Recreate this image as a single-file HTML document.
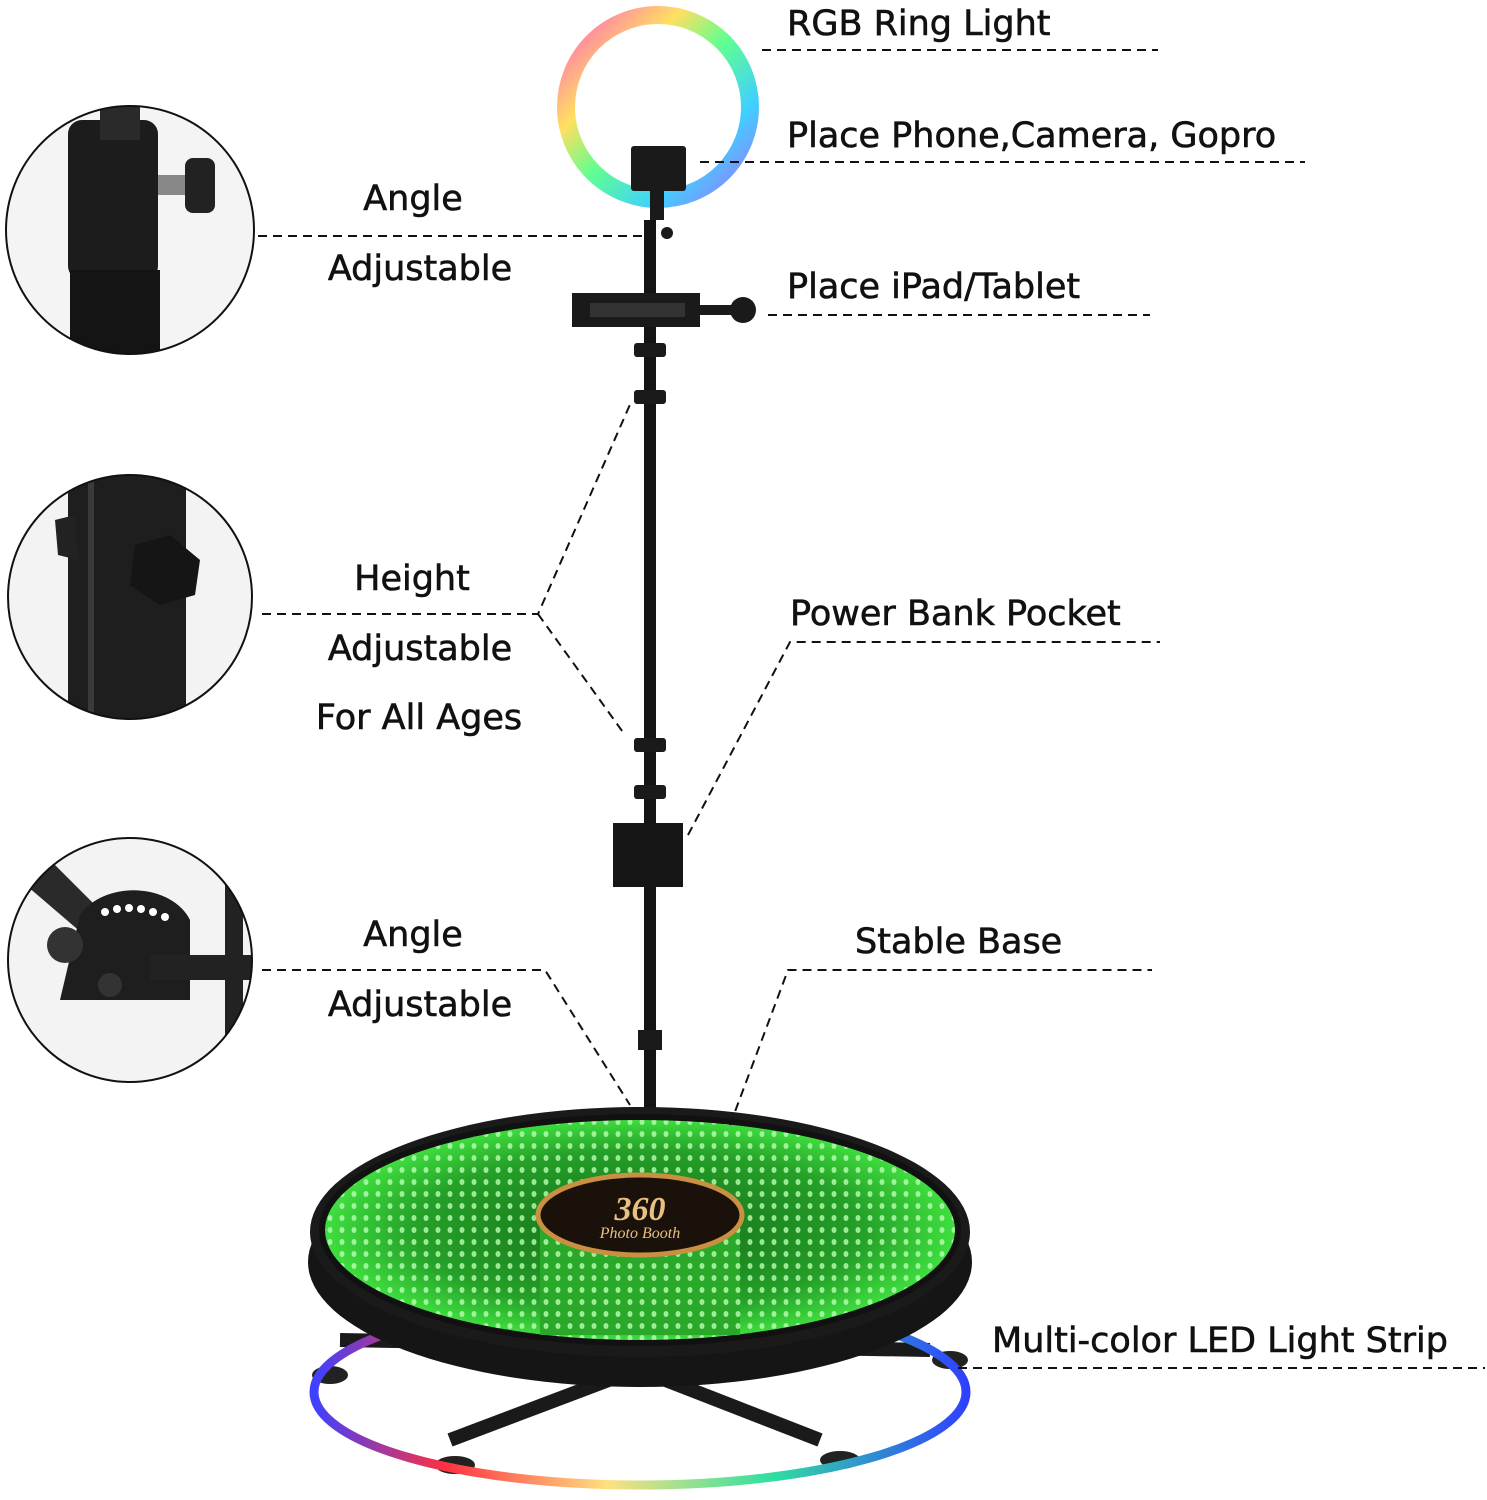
<!DOCTYPE html>
<html><head><meta charset="utf-8"><style>
html,body{margin:0;padding:0;background:#fff}
svg{display:block}
text{font-family:"DejaVu Sans","Liberation Sans",sans-serif;font-size:35px;fill:#111;stroke:#111;stroke-width:0.6}
</style></head><body>
<svg width="1487" height="1500" viewBox="0 0 1487 1500" xmlns="http://www.w3.org/2000/svg">
<defs>
<linearGradient id="rg" x1="0" y1="0" x2="1" y2="1">
<stop offset="0" stop-color="#ff60c0"/><stop offset="0.3" stop-color="#ffe060"/><stop offset="0.5" stop-color="#60ff90"/><stop offset="0.75" stop-color="#40d0ff"/><stop offset="1" stop-color="#a070ff"/>
</linearGradient>
<linearGradient id="led" x1="0" y1="0" x2="1" y2="0">
<stop offset="0" stop-color="#4040ff"/><stop offset="0.2" stop-color="#ff3040"/><stop offset="0.45" stop-color="#ffe080"/><stop offset="0.7" stop-color="#30e0a0"/><stop offset="1" stop-color="#3040ff"/>
</linearGradient>
<radialGradient id="grn" cx="0.5" cy="0.5" r="0.5">
<stop offset="0" stop-color="#146a18"/><stop offset="0.7" stop-color="#25a028"/><stop offset="1" stop-color="#40e040"/>
</radialGradient>
<pattern id="dots" width="12" height="12" patternUnits="userSpaceOnUse">
<ellipse cx="6" cy="6" rx="2.5" ry="3" fill="#b8ffb0" opacity="0.8"/>
</pattern>
<clipPath id="c1"><circle cx="130" cy="230" r="124"/></clipPath>
<clipPath id="c2"><circle cx="130" cy="597" r="122"/></clipPath>
<clipPath id="c3"><circle cx="130" cy="960" r="122"/></clipPath>
</defs>

<g clip-path="url(#c1)">
<rect x="0" y="100" width="260" height="260" fill="#f4f4f4"/>
<rect x="68" y="120" width="90" height="160" rx="14" fill="#1c1c1c"/>
<rect x="100" y="100" width="40" height="40" fill="#2a2a2a"/>
<rect x="158" y="175" width="40" height="20" fill="#888"/>
<rect x="185" y="158" width="30" height="55" rx="8" fill="#222"/>
<rect x="70" y="270" width="90" height="100" fill="#141414"/>
</g>
<circle cx="130" cy="230" r="124" fill="none" stroke="#111" stroke-width="2"/>

<g clip-path="url(#c2)">
<rect x="0" y="470" width="260" height="260" fill="#f3f3f3"/>
<rect x="68" y="470" width="118" height="260" fill="#1e1e1e"/>
<rect x="88" y="470" width="6" height="260" fill="#3a3a3a"/>
<path d="M135 545 L170 535 L200 560 L195 595 L160 605 L130 585 Z" fill="#151515"/>
<path d="M55 520 L75 515 L78 560 L58 555 Z" fill="#222"/>
</g>
<circle cx="130" cy="597" r="122" fill="none" stroke="#111" stroke-width="2"/>

<g clip-path="url(#c3)">
<rect x="0" y="835" width="260" height="260" fill="#f3f3f3"/>
<path d="M20 880 L50 860 L110 920 L90 940 Z" fill="#2a2a2a"/>
<path d="M80 915 A60 45 0 0 1 190 920 L190 1000 L60 1000 Z" fill="#1e1e1e"/>
<g fill="#fff"><circle cx="105" cy="912" r="4"/><circle cx="117" cy="909" r="4"/><circle cx="129" cy="908" r="4"/><circle cx="141" cy="909" r="4"/><circle cx="153" cy="912" r="4"/><circle cx="165" cy="917" r="4"/></g>
<rect x="150" y="955" width="110" height="25" fill="#222"/>
<rect x="225" y="880" width="18" height="220" fill="#222"/>
<circle cx="65" cy="945" r="18" fill="#333"/><circle cx="110" cy="985" r="12" fill="#333"/>
</g>
<circle cx="130" cy="960" r="122" fill="none" stroke="#111" stroke-width="2"/>

<circle cx="658" cy="107" r="92" fill="none" stroke="url(#rg)" stroke-width="18"/>
<rect x="631" y="146" width="55" height="45" rx="3" fill="#1a1a1a"/>
<rect x="650" y="190" width="14" height="30" fill="#1a1a1a"/>
<circle cx="667" cy="233" r="6" fill="#1a1a1a"/>
<rect x="644" y="220" width="12" height="890" fill="#141414"/>
<rect x="572" y="293" width="128" height="34" fill="#1a1a1a"/>
<rect x="590" y="303" width="95" height="14" fill="#333"/>
<rect x="695" y="305" width="45" height="10" fill="#1a1a1a"/>
<circle cx="743" cy="310" r="13" fill="#1a1a1a"/>
<g fill="#1a1a1a">
<rect x="634" y="343" width="32" height="14" rx="3"/><rect x="634" y="390" width="32" height="14" rx="3"/>
<rect x="634" y="738" width="32" height="14" rx="3"/><rect x="634" y="785" width="32" height="14" rx="3"/>
<rect x="613" y="823" width="70" height="64" fill="#161616"/>
<rect x="638" y="1030" width="24" height="20"/>
</g>

<g stroke="#1a1a1a" stroke-width="14">
<line x1="340" y1="1340" x2="930" y2="1350"/>
<line x1="450" y1="1440" x2="820" y2="1300"/>
<line x1="820" y1="1440" x2="460" y2="1300"/>
</g>
<g fill="#222"><ellipse cx="330" cy="1375" rx="18" ry="9"/><ellipse cx="455" cy="1465" rx="20" ry="9"/><ellipse cx="840" cy="1460" rx="20" ry="9"/><ellipse cx="950" cy="1360" rx="18" ry="9"/></g>
<ellipse cx="640" cy="1392" rx="326" ry="93" fill="none" stroke="url(#led)" stroke-width="9"/>

<ellipse cx="640" cy="1262" rx="332" ry="125" fill="#151515"/>
<ellipse cx="640" cy="1232" rx="330" ry="125" fill="#1a1a1a"/>
<ellipse cx="640" cy="1230" rx="318" ry="113" fill="url(#grn)"/>
<ellipse cx="640" cy="1230" rx="318" ry="113" fill="url(#dots)"/>
<ellipse cx="640" cy="1230" rx="318" ry="113" fill="none" stroke="#111" stroke-width="6"/>
<rect x="540" y="1215" width="200" height="120" fill="#2aa82a"/>
<rect x="540" y="1215" width="200" height="120" fill="url(#dots)"/>
<ellipse cx="640" cy="1215" rx="102" ry="40" fill="#1a120a" stroke="#c89040" stroke-width="5"/>
<text x="640" y="1220" text-anchor="middle" style="font-family:'Liberation Serif',serif;font-style:italic;font-weight:bold;font-size:34px;fill:#e8c080;stroke:none">360</text>
<text x="640" y="1238" text-anchor="middle" style="font-family:'Liberation Serif',serif;font-style:italic;font-size:16px;fill:#e8c080;stroke:none">Photo Booth</text>

<g stroke="#111" stroke-width="2" stroke-dasharray="9 6" fill="none">
<line x1="762" y1="50" x2="1158" y2="50"/>
<line x1="700" y1="162" x2="1305" y2="162"/>
<line x1="258" y1="236" x2="645" y2="236"/>
<line x1="768" y1="315" x2="1150" y2="315"/>
<polyline points="262,614 538,614 632,400"/>
<line x1="538" y1="614" x2="625" y2="735"/>
<polyline points="688,835 790,642 1160,642"/>
<polyline points="262,970 545,970 630,1105"/>
<polyline points="730,1125 788,970 1152,970"/>
<line x1="958" y1="1368" x2="1485" y2="1368"/>
</g>

<text x="787" y="35">RGB Ring Light</text>
<text x="787" y="147">Place Phone,Camera, Gopro</text>
<text x="413" y="210" text-anchor="middle">Angle</text>
<text x="420" y="280" text-anchor="middle">Adjustable</text>
<text x="787" y="298">Place iPad/Tablet</text>
<text x="412" y="590" text-anchor="middle">Height</text>
<text x="420" y="660" text-anchor="middle">Adjustable</text>
<text x="419" y="729" text-anchor="middle">For All Ages</text>
<text x="790" y="625">Power Bank Pocket</text>
<text x="413" y="946" text-anchor="middle">Angle</text>
<text x="420" y="1016" text-anchor="middle">Adjustable</text>
<text x="855" y="953">Stable Base</text>
<text x="992" y="1352">Multi-color LED Light Strip</text>
</svg>
</body></html>
